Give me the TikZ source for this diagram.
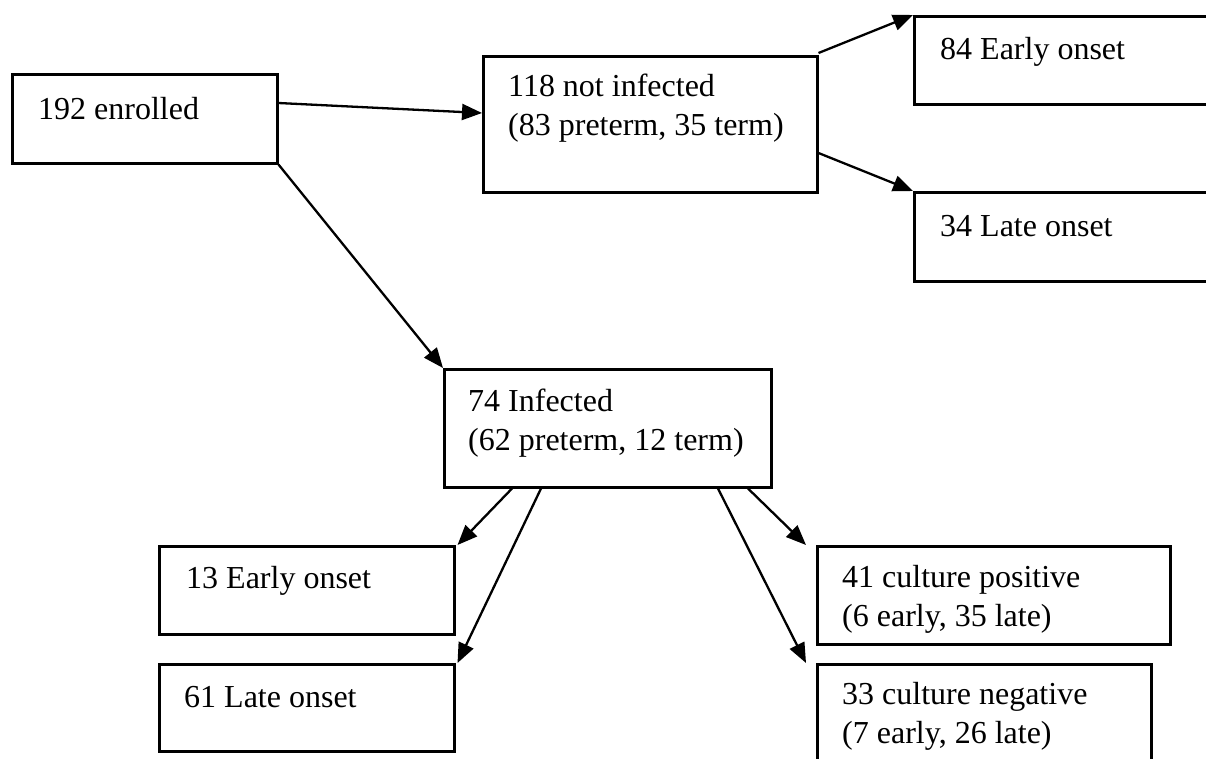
\documentclass[tikz,border=0pt]{standalone}
\usepackage{fontspec}
\setmainfont{Liberation Serif}
\usetikzlibrary{arrows.meta}
\begin{document}
\begin{tikzpicture}[x=1pt,y=-1pt,
  box/.style={draw=black,line width=2.5pt,rectangle,inner sep=0pt,anchor=north west},
  txt/.style={anchor=base west,inner sep=0pt,align=left,font=\fontsize{32}{38.5}\selectfont},
  arr/.style={line width=2.3pt,-{Triangle[length=20pt,width=16pt]}}]
\useasboundingbox (0,0) rectangle (1206,758);
\clip (0,0) rectangle (1206,758);
% boxes
\node[box,minimum width=265pt,minimum height=89pt] (enr) at (11,73) {};
\node[box,minimum width=334pt,minimum height=136pt] (notinf) at (482,55) {};
\node[box,minimum width=310pt,minimum height=88pt] (e84) at (913,15) {};
\node[box,minimum width=310pt,minimum height=89pt] (l34) at (913,191) {};
\node[box,minimum width=327pt,minimum height=118pt] (inf) at (443,368) {};
\node[box,minimum width=295pt,minimum height=88pt] (e13) at (158,545) {};
\node[box,minimum width=295pt,minimum height=87pt] (l61) at (158,663) {};
\node[box,minimum width=353pt,minimum height=98pt] (cpos) at (816,545) {};
\node[box,minimum width=334pt,minimum height=110pt] (cneg) at (816,663) {};
% texts (two-line nodes anchored on the baseline of their last line)
\node[txt] (tenr) at (38,119) {192 enrolled};
\node[txt] (tnotinf) at (508,135) {118 not infected\\(83 preterm, 35 term)};
\node[txt] (te84) at (940,59) {84 Early onset};
\node[txt] (tl34) at (940,236) {34 Late onset};
\node[txt] (tinf) at (468,450) {74 Infected\\(62 preterm, 12 term)};
\node[txt] (te13) at (186,588) {13 Early onset};
\node[txt] (tl61) at (184,707) {61 Late onset};
\node[txt] (tcpos) at (842,626) {41 culture positive\\(6 early, 35 late)};
\node[txt] (tcneg) at (842,743) {33 culture negative\\(7 early, 26 late)};
% connectors
\draw[arr] ([yshift=-30pt]enr.north east) -- ([yshift=-58pt]notinf.north west);
\draw[arr] (enr.south east) -- (inf.north west);
\draw[arr] ([yshift=2pt]notinf.north east) -- (e84.north west);
\draw[arr] ([yshift=-98pt]notinf.north east) -- (l34.north west);
\draw[arr] ([xshift=69pt]inf.south west) -- ([xshift=2pt]e13.north east);
\draw[arr] ([xshift=98pt]inf.south west) -- ([xshift=2pt]l61.north east);
\draw[arr] ([xshift=305pt]inf.south west) -- ([xshift=-10pt]cpos.north west);
\draw[arr] ([xshift=275pt]inf.south west) -- ([xshift=-10pt]cneg.north west);
\end{tikzpicture}
\end{document}
